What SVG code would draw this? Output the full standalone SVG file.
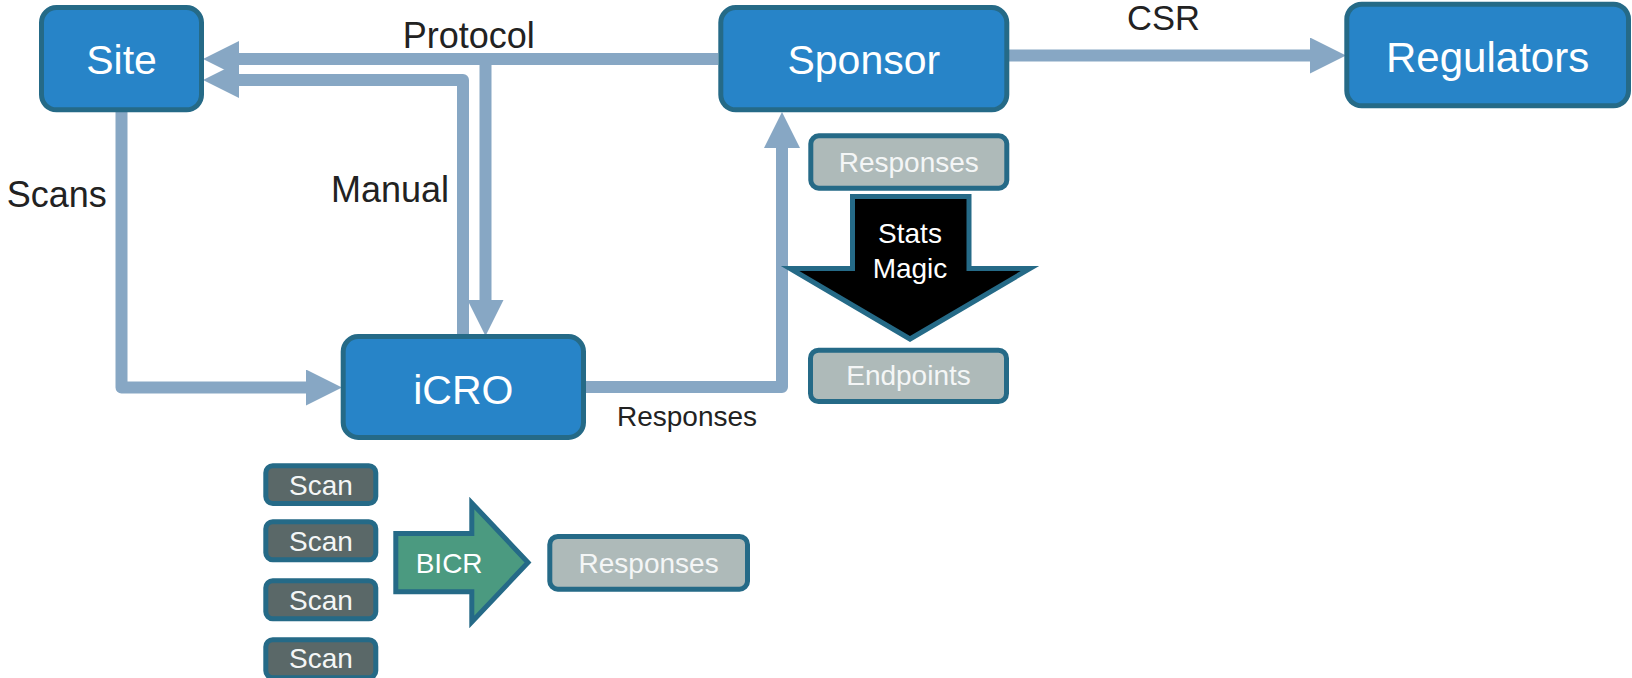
<svg xmlns="http://www.w3.org/2000/svg" width="1632" height="678" viewBox="0 0 1632 678">
  <style>
    text { font-family: "Liberation Sans", Arial, sans-serif; }
    .big { fill: #2784c8; stroke: #256a87; stroke-width: 5; }
    .bigt { fill: #ffffff; font-size: 41px; text-anchor: middle; }
    .gray { fill: #aebab9; stroke: #256a87; stroke-width: 5; }
    .scan { fill: #5a6868; stroke: #256a87; stroke-width: 5; }
    .smt { fill: #f4f6f6; font-size: 28px; text-anchor: middle; }
    .conn { fill: none; stroke: #87a7c4; stroke-width: 12; stroke-linejoin: round; marker-end: url(#ah); }
    .lbl { fill: #222222; font-size: 36px; }
    .lbls { fill: #222222; font-size: 28px; }
  </style>
  <defs>
    <marker id="ah" markerUnits="userSpaceOnUse" viewBox="0 0 36 36" markerWidth="36" markerHeight="36" refX="0" refY="18" orient="auto">
      <path d="M0,0 L36,18 L0,36 Z" fill="#87a7c4"/>
    </marker>
  </defs>
  <rect width="1632" height="678" fill="#ffffff"/>

  <g id="connectors">
    <path class="conn" d="M718,59 H239"/>
    <path class="conn" d="M485.5,59 V300"/>
    <path class="conn" d="M463,337 V80 H239"/>
    <path class="conn" d="M121.5,110 V387.5 H306"/>
    <path class="conn" d="M586,387 H782 V148"/>
    <path class="conn" d="M1009,55.5 H1310"/>
  </g>

  <g id="labels">
    <text class="lbl" x="402.7" y="48">Protocol</text>
    <text class="lbl" x="1127" y="30" style="font-size:34.5px">CSR</text>
    <text class="lbl" x="6.7" y="206.7">Scans</text>
    <text class="lbl" x="331" y="201.7">Manual</text>
    <text class="lbls" x="617" y="425.7">Responses</text>
  </g>

  <g id="site">
    <rect class="big" x="41.5" y="7.5" width="160" height="102.3" rx="15"/>
    <text class="bigt" x="121.5" y="74">Site</text>
  </g>
  <g id="sponsor">
    <rect class="big" x="720.8" y="7.5" width="286" height="102.3" rx="15"/>
    <text class="bigt" x="863.8" y="74">Sponsor</text>
  </g>
  <g id="regulators">
    <rect class="big" x="1346.8" y="4.2" width="281.7" height="101.6" rx="15"/>
    <text class="bigt" x="1487.6" y="71.5" style="font-size:42px">Regulators</text>
  </g>
  <g id="icro">
    <rect class="big" x="343.2" y="336.5" width="240.3" height="101" rx="15"/>
    <text class="bigt" x="463.3" y="404">iCRO</text>
  </g>

  <g id="responses-top">
    <rect class="gray" x="810.8" y="135.8" width="196" height="52.4" rx="8"/>
    <text class="smt" x="908.8" y="172.3">Responses</text>
  </g>
  <g id="stats-magic">
    <polygon points="852.5,196.5 969,196.5 969,268.5 1030,268.5 910,339 790,268.5 852.5,268.5" fill="#000000" stroke="#256a87" stroke-width="5"/>
    <text class="smt" x="910" y="242.7" style="fill:#ffffff">Stats</text>
    <text class="smt" x="910" y="278.3" style="fill:#ffffff">Magic</text>
  </g>
  <g id="endpoints">
    <rect class="gray" x="810.5" y="350.2" width="196" height="51.3" rx="8"/>
    <text class="smt" x="908.5" y="385">Endpoints</text>
  </g>

  <g id="scan1">
    <rect class="scan" x="265.8" y="465.8" width="110" height="37.7" rx="7"/>
    <text class="smt" x="321" y="495">Scan</text>
  </g>
  <g id="scan2">
    <rect class="scan" x="265.8" y="521.8" width="110" height="38" rx="7"/>
    <text class="smt" x="321" y="550.7">Scan</text>
  </g>
  <g id="scan3">
    <rect class="scan" x="265.8" y="580.8" width="110" height="38" rx="7"/>
    <text class="smt" x="321" y="610">Scan</text>
  </g>
  <g id="scan4">
    <rect class="scan" x="265.8" y="639.8" width="110" height="38" rx="7"/>
    <text class="smt" x="321" y="668.3">Scan</text>
  </g>

  <g id="bicr">
    <polygon points="395.8,533.5 471.8,533.5 471.8,503 528,562.5 471.8,622 471.8,591.8 395.8,591.8" fill="#4b9a80" stroke="#256a87" stroke-width="5"/>
    <text class="smt" x="415.7" y="573.3" style="text-anchor:start;fill:#ffffff">BICR</text>
  </g>
  <g id="responses-bottom">
    <rect class="gray" x="549.8" y="536.5" width="197.7" height="52.7" rx="8"/>
    <text class="smt" x="648.6" y="573.3">Responses</text>
  </g>
</svg>
